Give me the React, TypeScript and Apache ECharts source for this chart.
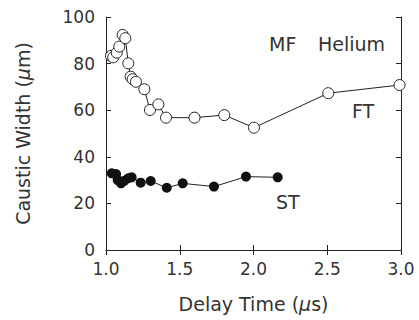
import React, { useEffect, useRef } from "react";
import * as echarts from "echarts";

const ftX = [1.034, 1.049, 1.073, 1.09, 1.113, 1.131, 1.151, 1.167, 1.181, 1.203, 1.26, 1.298, 1.355, 1.407, 1.6, 1.802, 2.003, 2.507, 2.99];
const ftY = [83.3, 82.7, 84.7, 87.3, 92.3, 90.9, 80.1, 74.4, 73.3, 72.2, 69.0, 60.1, 62.5, 56.8, 56.8, 57.9, 52.5, 67.3, 70.8];
const stX = [1.039, 1.068, 1.079, 1.102, 1.124, 1.151, 1.174, 1.235, 1.303, 1.412, 1.52, 1.732, 1.949, 2.164];
const stY = [32.9, 32.6, 30.0, 28.6, 29.7, 30.8, 31.2, 28.9, 29.6, 26.7, 28.6, 27.2, 31.5, 31.2];

const FONT = "DejaVu Sans";
const INK = "#333";

export default function App() {
  const ref = useRef<HTMLDivElement>(null);
  useEffect(() => {
    const chart = echarts.init(ref.current!, null, { renderer: "svg" });
    const lineStyle = { color: "#222", width: 1 };
    const tick = { show: true, inside: true, length: 5, lineStyle: { color: "#222", width: 1 } };
    chart.setOption({
      animation: false,
      backgroundColor: "#fff",
      grid: { left: 106, right: 18, top: 17, bottom: 70, containLabel: false },
      xAxis: [
        {
          type: "value", min: 1, max: 3, interval: 0.5, position: "bottom",
          axisLine: { show: true, lineStyle },
          axisTick: tick,
          splitLine: { show: false },
          axisLabel: { color: INK, fontFamily: FONT, fontSize: 17, margin: 10, formatter: (v: number) => v.toFixed(1) },
          name: "Delay Time ({i|μ}s)",
          nameLocation: "middle",
          nameGap: 44,
          nameTextStyle: { color: INK, fontFamily: FONT, fontSize: 19, rich: { i: { fontStyle: "italic", fontFamily: FONT, fontSize: 19, color: INK } } },
        },
        {
          type: "value", min: 1, max: 3, interval: 0.5, position: "top",
          axisLine: { show: true, lineStyle },
          axisTick: tick,
          splitLine: { show: false },
          axisLabel: { show: false },
        },
      ],
      yAxis: [
        {
          type: "value", min: 0, max: 100, interval: 20, position: "left",
          axisLine: { show: true, lineStyle },
          axisTick: tick,
          splitLine: { show: false },
          axisLabel: { color: INK, fontFamily: FONT, fontSize: 17, margin: 11 },
          name: "Caustic Width ({i|μ}m)",
          nameLocation: "middle",
          nameGap: 74,
          nameRotate: 90,
          nameTextStyle: { color: INK, fontFamily: FONT, fontSize: 19, rich: { i: { fontStyle: "italic", fontFamily: FONT, fontSize: 19, color: INK } } },
        },
        {
          type: "value", min: 0, max: 100, interval: 20, position: "right",
          axisLine: { show: true, lineStyle },
          axisTick: tick,
          splitLine: { show: false },
          axisLabel: { show: false },
        },
      ],
      series: [
        {
          type: "line",
          name: "FT",
          data: ftX.map((x, i) => [x, ftY[i]]),
          symbol: "circle",
          symbolSize: 11,
          lineStyle: { color: "#222", width: 1 },
          itemStyle: { color: "#fff", borderColor: "#222", borderWidth: 1 },
        },
        {
          type: "line",
          name: "ST",
          data: stX.map((x, i) => [x, stY[i]]),
          symbol: "circle",
          symbolSize: 10,
          lineStyle: { color: "#222", width: 1 },
          itemStyle: { color: "#111", borderColor: "#111", borderWidth: 0 },
        },
      ],
      graphic: [
        { type: "text", x: 269, y: 44, style: { text: "MF", fontFamily: FONT, fontSize: 19, fill: INK, verticalAlign: "middle" } },
        { type: "text", x: 318, y: 44, style: { text: "Helium", fontFamily: FONT, fontSize: 19, fill: INK, verticalAlign: "middle" } },
        { type: "text", x: 352, y: 111, style: { text: "FT", fontFamily: FONT, fontSize: 19, fill: INK, verticalAlign: "middle" } },
        { type: "text", x: 276, y: 202, style: { text: "ST", fontFamily: FONT, fontSize: 19, fill: INK, verticalAlign: "middle" } },
      ],
    });
    return () => chart.dispose();
  }, []);
  return <div ref={ref} style={{ position: "absolute", left: 0, top: 0, width: 419, height: 320 }} />;
}
